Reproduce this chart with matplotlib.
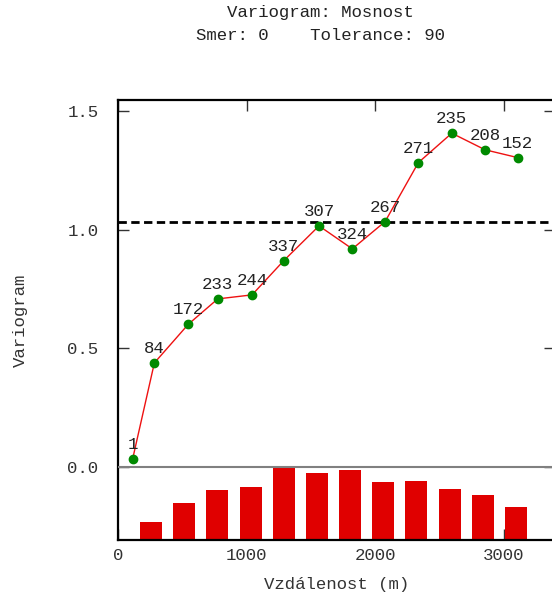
import matplotlib.pyplot as plt

# experimental variogram: mean lag distance, value, number of pairs
lag_dist = [114, 283, 547, 776, 1043, 1289, 1564, 1823, 2078, 2337, 2597, 2856, 3110]
gamma = [0.034, 0.439, 0.602, 0.709, 0.726, 0.870, 1.017, 0.920, 1.035, 1.284, 1.408, 1.338, 1.305]
pairs = [1, 84, 172, 233, 244, 337, 307, 324, 267, 271, 235, 208, 152]

# histogram of pairs drawn under the zero line, at lag centres
bar_x = [258, 516, 774, 1032, 1290, 1548, 1806, 2064, 2322, 2580, 2838, 3096]
bar_pairs = pairs[1:]

sill = 1.034

plt.rcParams['font.family'] = ['Liberation Mono', 'DejaVu Sans Mono']
plt.rcParams['font.size'] = 12.5

fig = plt.figure(figsize=(5.52, 5.96), dpi=100)
ax = fig.add_axes([118 / 552, 1 - 540 / 596, (555 - 118) / 552, 440 / 596])

ymin = -0.308
xmax = 3400
ax.set_xlim(0, xmax)
ax.set_ylim(ymin, 1.548)

# pairs histogram
scale = -ymin / max(bar_pairs)
ax.bar(bar_x, [p * scale for p in bar_pairs], bottom=ymin, width=171,
       color='#e00000', zorder=2)

ax.axhline(0, color='#808080', lw=1.5, zorder=3)
ax.axhline(sill, color='black', lw=2, ls=(0, (3, 1.6)), zorder=3)

ax.plot(lag_dist, gamma, color='#ee1111', lw=1, zorder=4)
ax.plot(lag_dist, gamma, 'o', color='#008a00', ms=6, zorder=5)
for x, y, n in zip(lag_dist, gamma, pairs):
    ax.annotate(str(n), (x, y), xytext=(0, 5), textcoords='offset points',
                ha='center', va='bottom', color='#222222', zorder=6)

for s in ax.spines.values():
    s.set_linewidth(1.6)

ax.set_yticks([0, 0.5, 1.0, 1.5])
ax.set_yticklabels(['0.0', '0.5', '1.0', '1.5'])
ax.set_xticks([0, 1000, 2000, 3000])
ax.tick_params(direction='in', length=8, width=1, color='#333333',
               labelcolor='#333333', top=True, right=True)
ax.tick_params(axis='y', pad=14)
ax.tick_params(axis='x', pad=6)

fig.text(320 / 552, 1 - 13 / 596, 'Variogram: Mosnost', ha='center', va='center', color='#222222')
fig.text(320 / 552, 1 - 35 / 596, 'Smer: 0    Tolerance: 90', ha='center', va='center', color='#222222')
fig.text(337 / 552, 1 - 585 / 596, 'Vzdálenost (m)', ha='center', va='center', color='#333333')
fig.text(20 / 552, 1 - 320 / 596, 'Variogram', ha='center', va='center', rotation=90, color='#333333')

fig.savefig('out.png', dpi=100)
